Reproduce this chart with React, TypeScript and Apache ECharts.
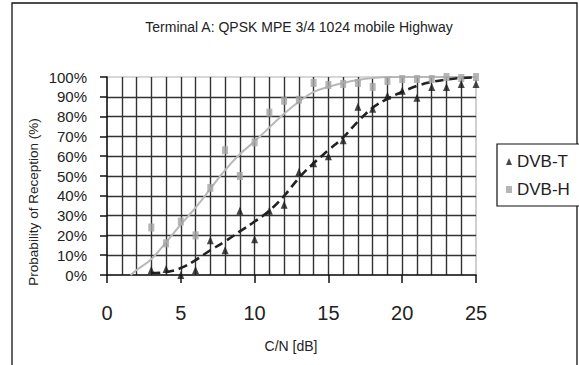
import React, { useEffect, useRef } from "react";
import * as echarts from "echarts";

// C/N values (dB) at which reception was measured
const cnDb = [3, 4, 5, 6, 7, 8, 9, 10, 11, 12, 13, 14, 15, 16, 17, 18, 19, 20, 21, 22, 23, 24, 25];

// Measured probability of reception (%)
const dvbT = [2.5, 3, 0, 2.5, 17.5, 12.5, 32.5, 18, 32.5, 35.5, 52, 56.5, 60, 68, 85, 84, 90.5, 93, 89.5, 95, 95, 96.5, 96.5];
const dvbH = [24, 16, 27, 20, 44, 63, 50, 67, 82, 88, 88.5, 97, 96, 96.5, 97, 95, 98, 99, 99, 99, 100, 99.5, 100];

// Fitted trend curves
const dvbTFitX = [3, 4, 5, 6, 7, 8, 9, 10, 11, 12, 13, 14, 15, 16, 17, 18, 19, 20, 21, 22, 23, 24, 25];
const dvbTFitY = [1, 1.5, 3.5, 7.5, 12.5, 17, 22, 27, 32.5, 40, 49, 56.5, 63, 69.5, 77.5, 84.5, 89, 92.5, 95.5, 97.5, 98.7, 99.5, 99.8];
const dvbHFitX = [1.6, 2, 3, 4, 5, 6, 7, 8, 9, 10, 11, 12, 13, 14, 15, 16, 17, 18, 19, 20, 21, 22, 23, 24, 25];
const dvbHFitY = [0, 2.5, 8, 16.5, 25.5, 34, 43.5, 53, 61, 67.5, 74.5, 81.5, 87.5, 92.5, 95, 97, 98.5, 99.5, 100, 100, 100, 100, 100, 100, 100];

const xTicks = { min: 0, max: 25, step: 5 };
const yTicks = { min: 0, max: 100, step: 10 };

const titleText = "Terminal A: QPSK MPE 3/4 1024 mobile Highway";
const xName = "C/N [dB]";
const yName = "Probability of Reception (%)";

const SANS = "'Liberation Sans', Arial, sans-serif";

const pairs = (xs: number[], ys: number[]) => xs.map((x, i) => [x, ys[i]]);

export default function App() {
  const ref = useRef<HTMLDivElement>(null);

  useEffect(() => {
    if (!ref.current) return;
    const chart = echarts.init(ref.current, undefined, { renderer: "svg" });
    const gridLine = { color: "#333", width: 1.4 };
    const axisLine = { color: "#111", width: 1.5 };

    chart.setOption({
      animation: false,
      backgroundColor: "#fff",
      grid: {
        left: 107,
        right: 103,
        top: 77,
        bottom: 90,
        show: true,
        borderColor: "#b0b0b0",
        borderWidth: 1.2,
      },
      xAxis: {
        type: "value",
        min: xTicks.min,
        max: xTicks.max,
        interval: xTicks.step,
        axisLine: { show: true, lineStyle: axisLine },
        axisTick: { show: true, length: 8, lineStyle: axisLine },
        axisLabel: { fontSize: 20, color: "#222", margin: 28, fontFamily: SANS },
        splitLine: { show: true, showMinLine: false, showMaxLine: false, lineStyle: gridLine },
        minorTick: { show: false, splitNumber: 5 },
        minorSplitLine: { show: true, lineStyle: gridLine },
      },
      yAxis: {
        type: "value",
        min: yTicks.min,
        max: yTicks.max,
        interval: yTicks.step,
        axisLine: { show: true, lineStyle: axisLine },
        axisTick: { show: true, length: 7, lineStyle: axisLine },
        axisLabel: {
          formatter: "{value}%",
          fontSize: 15,
          color: "#222",
          margin: 20,
          fontFamily: SANS,
        },
        splitLine: { show: true, showMinLine: false, showMaxLine: false, lineStyle: gridLine },
      },
      legend: {
        orient: "vertical",
        left: 497,
        top: 144,
        padding: [9, 12, 8, 9],
        itemGap: 11,
        itemWidth: 6,
        itemHeight: 7,
        borderColor: "#111",
        borderWidth: 1.2,
        backgroundColor: "#fff",
        textStyle: { fontSize: 17, color: "#222", fontFamily: SANS },
        data: [
          { name: "DVB-T", icon: "triangle" },
          { name: "DVB-H", icon: "rect" },
        ],
      },
      graphic: [
        {
          type: "rect",
          shape: { x: 12, y: 3, width: 565, height: 400 },
          style: { fill: "none", stroke: "#111", lineWidth: 1.3 },
          silent: true,
        },
        {
          type: "text",
          x: 299,
          y: 27,
          style: {
            text: titleText,
            font: `14px ${SANS}`,
            fill: "#222",
            align: "center",
            verticalAlign: "middle",
          },
        },
        {
          type: "text",
          x: 291,
          y: 346,
          style: {
            text: xName,
            font: `14px ${SANS}`,
            fill: "#222",
            align: "center",
            verticalAlign: "middle",
          },
        },
        {
          type: "text",
          x: 33,
          y: 202,
          rotation: Math.PI / 2,
          style: {
            text: yName,
            font: `13.5px ${SANS}`,
            fill: "#222",
            align: "center",
            verticalAlign: "middle",
          },
        },
      ],
      series: [
        {
          name: "DVB-H fit",
          type: "line",
          data: pairs(dvbHFitX, dvbHFitY),
          smooth: 0.4,
          showSymbol: false,
          lineStyle: { color: "#b8b8b8", width: 2 },
          z: 3,
        },
        {
          name: "DVB-T fit",
          type: "line",
          data: pairs(dvbTFitX, dvbTFitY),
          smooth: 0.4,
          showSymbol: false,
          lineStyle: { color: "#222", width: 2.6, type: [9, 5] },
          z: 3,
        },
        {
          name: "DVB-H",
          type: "scatter",
          data: pairs(cnDb, dvbH),
          symbol: "rect",
          symbolSize: [6, 8],
          itemStyle: { color: "#a4a4a4" },
          z: 4,
        },
        {
          name: "DVB-T",
          type: "scatter",
          data: pairs(cnDb, dvbT),
          symbol: "triangle",
          symbolSize: [7, 8],
          itemStyle: { color: "#1a1a1a" },
          z: 5,
        },
      ],
    });

    return () => chart.dispose();
  }, []);

  return (
    <div
      ref={ref}
      style={{ position: "fixed", left: 0, top: 0, width: 579, height: 365 }}
    />
  );
}
